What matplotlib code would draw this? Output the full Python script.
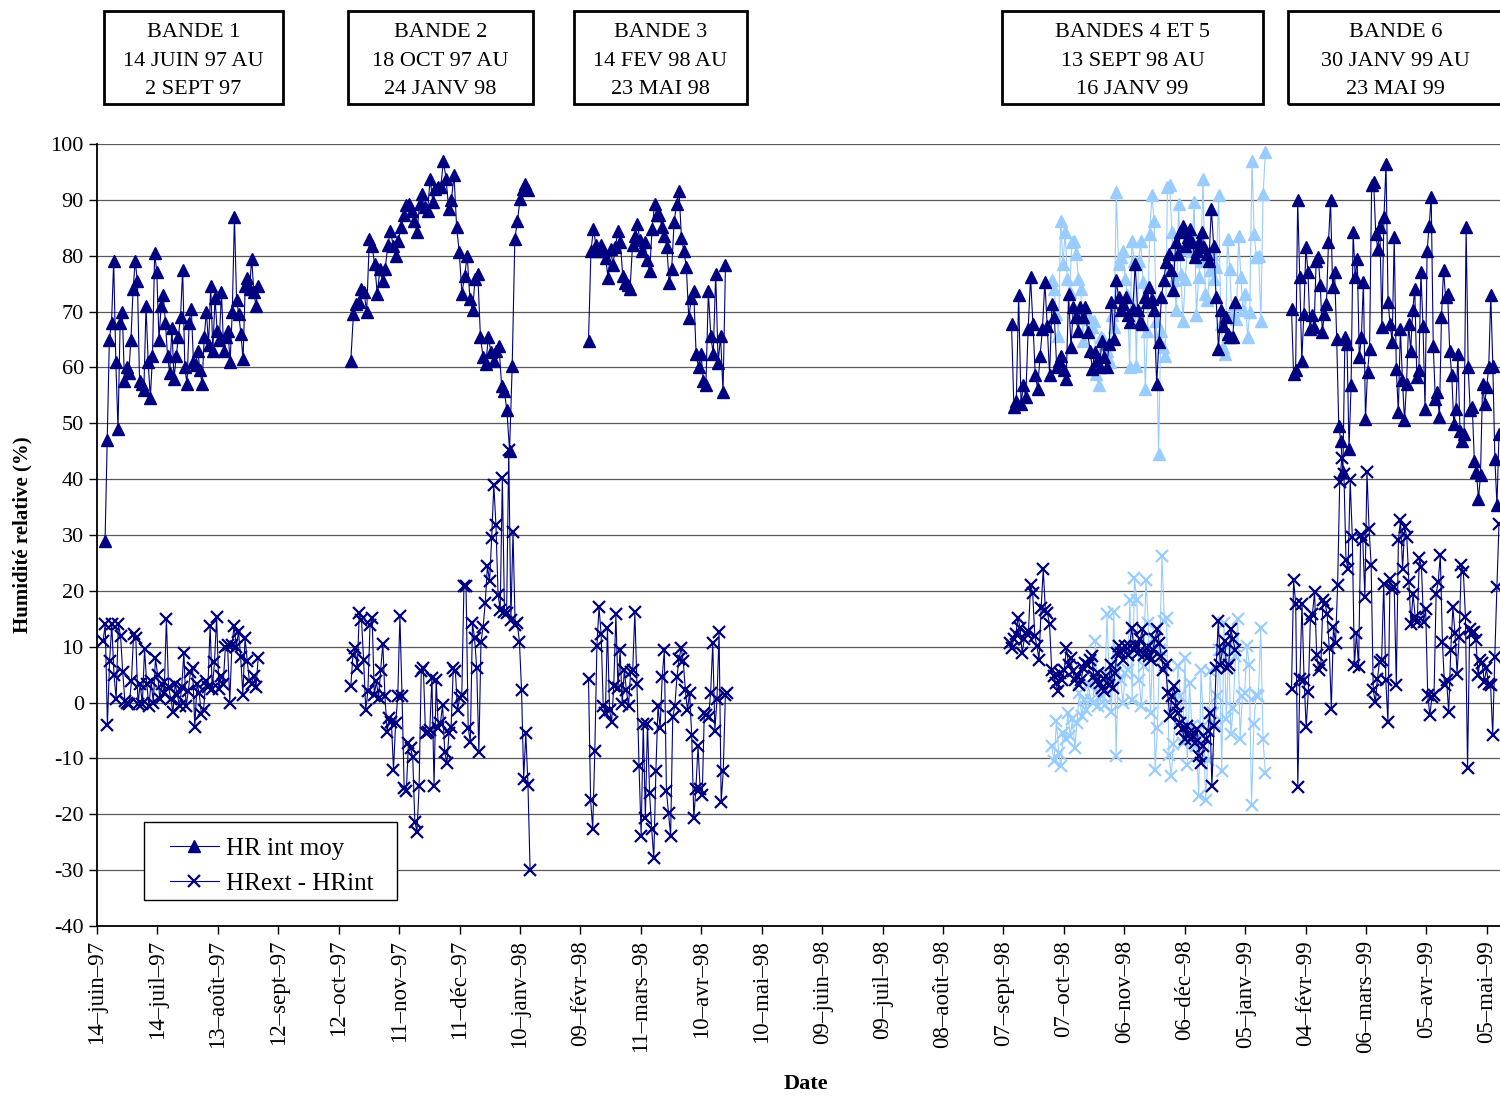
import matplotlib
matplotlib.use("Agg")
import matplotlib.pyplot as plt
import matplotlib.patches as mpatches
import pandas as pd

plt.rcParams['font.family'] = ['Liberation Serif', 'DejaVu Serif']
plt.rcParams['axes.unicode_minus'] = False

NAVY = '#000080'
LIGHT = '#99CCFF'

# ---------------- data ----------------
# Bande 1
b1_int_span = ('1997-06-18', '1997-09-02')
b1_int = [29, 47, 65, 68, 79, 61, 49, 68, 70, 57.5, 60, 59, 65, 74, 79, 75.5, 57.5, 57, 56, 71,
          61, 54.5, 62, 80.5, 77, 65, 71, 73, 68, 62, 59, 67, 58, 62, 65.5, 69, 77.5, 60, 57, 68,
          70.5, 61, 60.5, 63, 59.5, 57, 65.5, 70, 64, 74.5, 63, 72.5, 66.5, 65, 73.5, 63, 65.5, 66.5,
          61, 70, 87, 72, 69.5, 66, 61.5, 74.5, 76, 74, 79.5, 73.5, 71, 74.5]
b1_diff_span = ('1997-06-17', '1997-09-02')
b1_diff = [11, 14, -4, 7.5, 14, 5, 0.7, 14, 12, 5.5, 0.3, 0, -0.3, 3.8, 12.3, 11.6, -0.3, 3.4, -0.3,
           9.6, 3.4, -0.7, 3.8, 0, 7.9, 5, 0.7, 3.4, 1.7, 15, 2.7, 0.7, -1.7, 3.4, 1.4, -0.7, 2.7,
           8.9, -0.7, 2, 5.5, 6.2, -4.4, 3.4, 1.7, -2, -1.4, 3.8, 2.7, 13.7, 2.4, 7.2, 15.4, 2.4,
           4.8, 3.4, 9.9, 10.3, 0, 10.3, 13.7, 9.9, 12.7, 8.2, 1.4, 11.6, 7.5, 3.8, 3.4, 4.8, 2.7, 7.9]

# Bande 2
b2_int_span = ('1997-10-18', '1998-01-14')
b2_int = [61.2, 69.6, 71.4, 71.7, 74, 73.5, 69.9, 83, 81.8, 78.5, 73.2, 77.6, 75.5, 77.6, 82, 84.5,
          81.8, 80, 82.7, 85.2, 87.2, 89, 89.3, 88, 86.3, 84.2, 89.3, 91, 88.7, 88, 93.8, 89.6, 92,
          92.3, 92.3, 97, 93.8, 88.4, 89.9, 94.4, 85.1, 80.6, 73.2, 76.4, 80, 72.3, 70.2, 75.9, 76.7,
          65.4, 61.8, 60.6, 65.4, 62.7, 61.2, 63, 63.9, 56.7, 55.8, 52.3, 45.1, 60.3, 83, 86.3, 90.2,
          92, 92.9, 91.7]
b2_diff_span = ('1997-10-18', '1998-01-15')
b2_diff = [2.9, 8.5, 9.7, 6.1, 16.1, 14.8, 7.6, -1.3, 2, 13.9, 15.1, 1.4, 3.8, 0.8, 5.9, 10.5, 1.1,
           -5.2, -2.8, -3.4, -12, -3.7, 1.1, 15.5, 1.2, -15.3, -15.9, -7.3, -8.2, -9.7, -21.3, -23.1,
           -15, 5.6, 6.1, -5.5, -5.2, -4.9, 4.4, -15, 4.1, -4.6, -3.7, -0.4, -8.8, -10.9, -5.5, -4.3,
           6.1, 5.6, -1.3, 0.8, 1.4, 20.8, 20.8, -4.6, -7, 14.2, 11.5, 6.1, -8.8, 10.9, 13.6, 17.9,
           24.4, 21.7, 29.4, 39, 31.8, 19.3, 16.6, 40.2, 16.3, 16, 45.3, 14.8, 30.6, 13.9, 14.2,
           10.9, 2.3, -13.6, -5.5, -14.7, -30]

# Bande 3
b3_int_span = ('1998-02-13', '1998-04-22')
b3_int = [64.8, 80.8, 84.8, 82, 80.8, 82, 80.8, 79.6, 76, 81.2, 78.4, 81.6, 84.4, 82.4, 76.4, 75.2,
          74.8, 74, 82, 83.6, 85.6, 82.8, 80.8, 82.4, 79.2, 77.2, 84.8, 89.2, 87.2, 87.2, 85.2, 83.6,
          81.6, 75.2, 77.6, 86, 89.2, 91.6, 83.2, 80.8, 78, 68.8, 72.4, 73.6, 62.4, 60, 62.4, 57.6,
          56.8, 73.6, 65.6, 62.4, 76.8, 60.8, 65.6, 55.6, 78.4]
b3_diff_span = ('1998-02-13', '1998-04-23')
b3_diff = [4.2, -17.4, -22.6, -8.6, 10.2, 17.1, 12.2, -0.6, -1.8, 13.4, -1.4, -3.4, 3, 15.8, 2.6,
           9.4, -0.2, 5.8, 2.2, -0.6, 5.4, 5.8, 16.2, 3.4, -11.4, -23.8, -3.8, -20.6, -3.8, -16.2,
           -22.6, -27.8, -12.2, -0.6, -4.6, 4.6, 9.4, -15.8, -19.8, -23.8, -2.6, -0.6, 4.6, 7.8,
           9.8, 7.4, 2.2, -1.4, 1.8, -5.8, -20.6, -15.4, -7.8, -15.4, -16.6, -1.8, -2.2, -2.6, 1.8,
           10.6, -5, 0.6, 12.6, -17.8, -12.2, 1.4, 1.8]

# Bande 4
b4_int_span = ('1998-09-11', '1998-12-31')
b4_int = [67.8, 52.9, 54, 72.9, 53.5, 56.8, 54.7, 66.9, 76.2, 67.8, 58.6, 56.2, 62.1, 66.9, 75.3,
          67.5, 58.6, 71.4, 69, 60, 61.2, 62.1, 59.5, 58, 73.2, 63.6, 70.8, 69, 66.6, 70.8, 69, 70.8,
          66.3, 63, 59.8, 62.7, 61.2, 60, 64.8, 61.8, 60, 64.2, 71.7, 65.1, 75.6, 72.6, 70.2, 71.4,
          72.6, 69.3, 68.1, 70.5, 78.5, 70.2, 68.1, 67.8, 72.6, 71.7, 74.4, 72.3, 70.2, 57.1, 64.5,
          72.6, 75.6, 78.8, 80.3, 77.4, 73.8, 82.4, 80.3, 84.2, 85.4, 81.8, 83.3, 84.8, 82.4, 79.7,
          80.9, 82.4, 84.2, 81.5, 80.3, 79.1, 88.4, 81.8, 72.6, 63.3, 70.2, 67.5, 69, 66, 65.4,
          65.4, 71.7]
b4_diff_span = ('1998-09-10', '1998-12-31')
b4_diff = [10.7, 9.8, 11.3, 12.2, 15.2, 13.4, 8.9, 11.3, 12.5, 12.8, 21.1, 19.6, 11.9, 10.1, 7.7,
           16.9, 23.9, 16.6, 16, 14, 5.9, 4.7, 3.5, 2, 5.3, 4.1, 5.9, 9.8, 6.8, 8, 5.6, 4.1, 4.7,
           3.2, 4.1, 6.2, 7.1, 6.8, 7.7, 8.3, 4.7, 3.8, 5.3, 3.5, 2.6, 2, 4.7, 3.2, 6.8, 2.6, 5.3,
           8.9, 10.1, 8.9, 7.7, 10.1, 8.6, 10.1, 13.4, 9.5, 10.1, 8.9, 11.3, 13.1, 8.6, 9.8, 8.3,
           7.7, 9.5, 11.3, 13.1, 10.7, 8.3, 5.9, 6.8, 1.7, -2.4, 1.1, 2.9, -0.7, -1.8, -3.6, -4.8,
           -6.6, -4.2, -5.4, -6.6, -6, -7.2, -4.8, -9.6, -10.8, -7.8, -6.6, -5.1, -1.8, -15, -4.2,
           6.2, 14.6, 6.8, 9.5, 11, 6.2, 6.8, 13.1, 11.3, 9.5]

# Bande 5
b5_int_span = ('1998-10-01', '1999-01-15')
b5_int = [75.6, 74.1, 69.6, 65.7, 86.3, 78.5, 84.2, 75.9, 73.5, 82.4, 82.7, 80.3, 75.9, 74.1, 64.8,
          70.8, 69.6, 68.7, 67.2, 68.4, 58.9, 56.8, 65.4, 65.1, 64.2, 63, 60.9, 69.3, 67.2, 91.4,
          78.5, 79.7, 80.9, 75.9, 72.9, 60, 82.7, 79.1, 60.3, 79.1, 82.7, 75.3, 56.2, 66.6, 83.9,
          90.8, 86.3, 68.4, 44.5, 66.6, 63.6, 62.1, 92.3, 92.6, 84.2, 75.6, 70.2, 89.3, 76.8, 68.4,
          75.9, 81.2, 84.5, 80.9, 89.6, 69.3, 76.2, 79.1, 93.8, 73.2, 72, 77.4, 80.3, 75.9, 78, 90.8,
          67.8, 63.6, 62.4, 83, 77.6, 69.3, 71.4, 68.7, 83.6, 76.2, 70.2, 73.2, 65.4, 69.9, 97,
          83.9, 79.7, 80, 68.4, 91, 98.5]
b5_diff_span = ('1998-10-01', '1999-01-15')
b5_diff = [-7.8, -10.5, -3.3, -9, -11.4, -5.4, -6.6, -1.8, -6, -3, -8.1, -3.6, 1.7, -2.4, 0.5, -1.3,
           3.2, 0.5, -0.1, 11, -0.7, 2.9, 1.1, -0.4, 15.8, 4.7, -1.6, 16.3, -9.6, 6.5, 4.1, -0.1,
           5.3, 5.9, 18.4, 0.5, 22.3, 18.4, 4.1, -0.7, 6.5, 22, 14.3, -1.8, 11.3, -12, -4.5, 9.5,
           26.2, 14.6, 15.2, -9.3, -13.2, -7.5, -0.7, 6.5, 1.1, -7.2, 8, -11.1, 3.5, -4.2, -5.1,
           -7.8, -16.8, 5.9, -4.2, -17.4, -10.2, 5.6, -1.8, -3.9, 1.1, 9.5, -12.3, 14.3, -3, 10.1,
           -5.7, -1, 8.3, 14.9, -6.6, 1.1, 1.7, 10.1, 6.8, -18.3, -3.9, 1.4, 1.1, 13.4, -6.6, -12.6]

# Bande 6
b6_int_span = ('1999-01-28', '1999-05-11')
b6_int = [70.5, 58.9, 59.5, 89.9, 76.2, 61.2, 69.6, 81.5, 77, 66.9, 69.3, 67.2, 79.1, 79.7, 74.7,
          66.3, 69.6, 71.4, 82.4, 89.9, 74.4, 77, 65.1, 49.6, 46.9, 41.3, 65.4, 64.2, 45.4, 56.8,
          84.2, 76.2, 79.4, 61.8, 65.4, 75.3, 50.8, 59.2, 63.3, 92.6, 93.2, 83.9, 81.2, 85.1, 67.2,
          86.9, 96.4, 71.7, 67.8, 64.5, 83.3, 59.8, 52, 66.9, 57.7, 50.5, 57.1, 67.8, 63, 70.2,
          74.1, 58.3, 59.5, 77, 67.5, 52.6, 80.9, 85.4, 90.5, 63.9, 54.4, 55.6, 51.1, 69, 77.4,
          72.6, 73.2, 63, 58.6, 49.9, 52.6, 62.4, 48.7, 46.9, 48.1, 85.1, 60, 52.3, 52.9, 43.3,
          41.3, 36.5, 40.7, 57.1, 53.5, 56.5, 60, 72.9, 60.3, 43.6, 35.3, 48]
b6_diff_span = ('1999-01-28', '1999-05-11')
b6_diff = [2.5, 21.9, 17.7, -15.1, 4.3, 17.7, 4, -4.4, 1.9, 15, 15.9, 19.8, 8.5, 5.8, 6.7, 18.3,
           17.7, 15.9, 9.7, -1.1, 13.5, 10.6, 21, 39.5, 43.7, 41, 25.5, 24, 39.8, 29.7, 6.7, 12.4,
           6.4, 30, 29.1, 18.9, 41.3, 31.1, 24.6, 2.2, 0.1, 4.3, 7.3, 7.6, 21.3, 4, -3.5, 22.2, 20.4,
           20.7, 3.1, 29.1, 32.6, 24, 31.4, 29.7, 21.6, 14.1, 19.5, 15.3, 14.4, 25.8, 24.3, 14.4,
           16.8, 1.3, -2.3, 1, 1.3, 19.5, 21.6, 26.4, 10.9, 3.1, 4, -1.7, 9.4, 17.1, 12.4, 5.2, 11.8,
           24.6, 23.4, 15.3, -11.8, 13.2, 12.4, 12.6, 11.2, 4.9, 7.6, 7, 3.7, 6.1, 3.4, 3.1, -5.8,
           8.2, 20.7, 32]

tick_labels = ['14–juin–97', '14–juil–97', '13–août–97', '12–sept–97', '12–oct–97', '11–nov–97',
               '11–déc–97', '10–janv–98', '09–févr–98', '11–mars–98', '10–avr–98', '10–mai–98',
               '09–juin–98', '09–juil–98', '08–août–98', '07–sept–98', '07–oct–98', '06–nov–98',
               '06–déc–98', '05–janv–99', '04–févr–99', '06–mars–99', '05–avr–99', '05–mai–99']

band_titles = ['BANDE 1\n14 JUIN 97 AU\n2 SEPT 97',
               'BANDE 2\n18 OCT 97 AU\n24 JANV 98',
               'BANDE 3\n14 FEV 98 AU\n23 MAI 98',
               'BANDES 4 ET 5\n13 SEPT 98 AU\n16 JANV 99',
               'BANDE 6\n30 JANV 99 AU\n23 MAI 99']

# ---------------- figure ----------------
W, H = 1500, 1096
fig = plt.figure(figsize=(W / 100, H / 100), dpi=100)
ax = fig.add_axes([97 / W, 1 - 926 / H, (W - 97) / W, (926 - 144) / H])


def dates(span, values):
    return pd.date_range(span[0], span[1], periods=len(values))


int_style = dict(color=NAVY, lw=0.8, marker='^', ms=8, mec=NAVY, mfc=NAVY)
diff_style = dict(color=NAVY, lw=0.8, marker='x', ms=8, mew=1.6, mec=NAVY)
int_light = dict(color=LIGHT, lw=0.8, marker='^', ms=8, mec=LIGHT, mfc=LIGHT)
diff_light = dict(color=LIGHT, lw=0.8, marker='x', ms=8, mew=1.6, mec=LIGHT)

# band 5 (light) underneath the navy series
ax.plot(dates(b5_int_span, b5_int), b5_int, zorder=3, **int_light)
ax.plot(dates(b5_diff_span, b5_diff), b5_diff, zorder=3, **diff_light)

int_sets = [(b1_int_span, b1_int), (b2_int_span, b2_int), (b3_int_span, b3_int),
            (b4_int_span, b4_int), (b6_int_span, b6_int)]
diff_sets = [(b1_diff_span, b1_diff), (b2_diff_span, b2_diff), (b3_diff_span, b3_diff),
             (b4_diff_span, b4_diff), (b6_diff_span, b6_diff)]

for i, (span, vals) in enumerate(int_sets):
    ax.plot(dates(span, vals), vals, zorder=4,
            label='HR int moy' if i == 0 else None, **int_style)
for i, (span, vals) in enumerate(diff_sets):
    ax.plot(dates(span, vals), vals, zorder=4,
            label='HRext - HRint' if i == 0 else None, **diff_style)

# axes
x0 = pd.Timestamp('1997-06-14')
ax.set_xlim(x0, x0 + pd.Timedelta(days=696.5))
ax.set_ylim(-40, 100)
ax.set_yticks(range(-40, 101, 10))
ax.set_yticklabels([str(v) for v in range(-40, 101, 10)])
tick_pos = pd.date_range(x0, periods=len(tick_labels), freq='30D')
ax.set_xticks(tick_pos)
ax.set_xticklabels(tick_labels, rotation=90, va='top', ha='center')
ax.tick_params(axis='both', direction='out', length=6, width=1.0, labelsize=16, colors='black')
ax.tick_params(axis='x', pad=4, labelsize=16.5)
ax.grid(axis='y', color='#5a5a5a', lw=0.9)
ax.set_axisbelow(True)
for s in ['top', 'right']:
    ax.spines[s].set_visible(False)
for s in ['left', 'bottom']:
    ax.spines[s].set_linewidth(1.3)
    ax.spines[s].set_color('black')

fig.text(22 / W, 1 - 535 / H, 'Humidité relative (%)', rotation=90, ha='center', va='center',
         fontsize=15, fontweight='bold')
fig.text(806 / W, 1 - 1084 / H, 'Date', ha='center', va='center', fontsize=16, fontweight='bold')

# legend: plain white box, entries drawn on top of it
legend_box = mpatches.Rectangle((144 / W, 1 - 900 / H), (397 - 144) / W, 78 / H,
                                transform=fig.transFigure, facecolor='white',
                                edgecolor='black', lw=1.0, zorder=5, clip_on=False)
ax.add_patch(legend_box)
leg = ax.legend(loc='center left', bbox_to_anchor=(170 / W, 1 - 866 / H),
                bbox_transform=fig.transFigure, fontsize=18, frameon=False,
                handlelength=1.95, borderpad=0, labelspacing=0.5, handletextpad=0.3,
                borderaxespad=0)
leg.set_zorder(6)

# band header boxes
boxes = [(104, 283), (348, 533), (574, 747), (1002, 1263), (1288, 1503)]
for (xl, xr), title in zip(boxes, band_titles):
    fig.patches.append(mpatches.Rectangle((xl / W, 1 - 104 / H), (xr - xl) / W, 93 / H,
                                          transform=fig.transFigure, fill=False,
                                          edgecolor='black', lw=2))
    fig.text((xl + xr) / 2 / W, 1 - 61 / H, title, ha='center', va='center', fontsize=16,
             linespacing=1.7)

fig.savefig('out.png', dpi=100)
